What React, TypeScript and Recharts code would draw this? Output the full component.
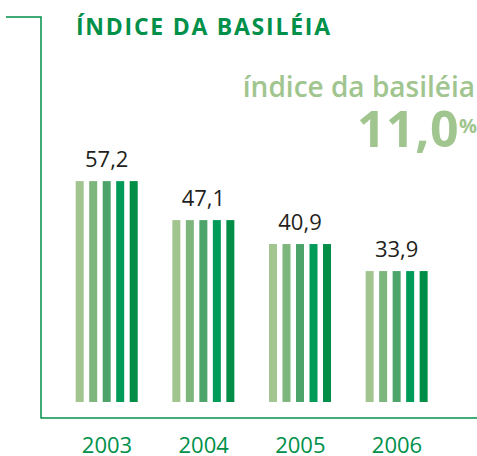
import React from "react";
import { BarChart, Bar, XAxis, YAxis, LabelList } from "recharts";

const years = ["2003", "2004", "2005", "2006"];
const values = [57.2, 47.1, 40.9, 33.9];
const stripeColors = ["#a2c48f", "#7db67c", "#4ca46b", "#009b59", "#008d45"];

const data = years.map((year, i) => ({ year, value: values[i] }));

const GREEN = "#00904a";
const LIGHT = "#a0c58f";
const FONT = "'Open Sans', 'Noto Sans', sans-serif";

const StripedBar = (props: any) => {
  const { x, y, width, height } = props;
  const sw = (width * 8) / 62;
  const pitch = (width - sw) / (stripeColors.length - 1);
  return (
    <g>
      {stripeColors.map((c, i) => (
        <rect key={i} x={x + i * pitch} y={y} width={sw} height={height} fill={c} />
      ))}
    </g>
  );
};

const App = () => {
  return (
    <div style={{ position: "absolute", left: 0, top: 0, width: 477, height: 456, background: "#fff" }}>
      <BarChart
        width={477}
        height={456}
        data={data}
        margin={{ top: 17, right: 0, bottom: 8, left: 41 }}
        barSize={62}
      >
        <XAxis
          dataKey="year"
          height={30}
          padding={{ left: 17.7, right: 31.7 }}
          axisLine={{ stroke: GREEN, strokeWidth: 1.5 }}
          tickLine={false}
          tickSize={6}
          tickMargin={13}
          tick={{ fontSize: 22, fill: GREEN, fontFamily: FONT }}
        />
        <YAxis hide domain={[-4.15, 99.7]} allowDataOverflow />
        <Bar dataKey="value" shape={<StripedBar />} isAnimationActive={false}>
          <LabelList
            dataKey="value"
            position="top"
            offset={14}
            formatter={(v: any) => String(v).replace(".", ",")}
            style={{ fontSize: 22, fill: "#231f20", fontFamily: FONT }}
          />
        </Bar>
      </BarChart>
      <svg
        width={477}
        height={456}
        style={{ position: "absolute", left: 0, top: 0, pointerEvents: "none" }}
      >
        <polyline
          points="6,17 41,17 41,418.5"
          fill="none"
          stroke={GREEN}
          strokeWidth={1.5}
        />
        <text
          x={76}
          y={34.5}
          fontSize={23}
          fontWeight={700}
          fill={GREEN}
          fontFamily={FONT}
          textLength={254}
          lengthAdjust="spacing"
        >
          ÍNDICE DA BASILÉIA
        </text>
        <text
          x={475}
          y={97}
          textAnchor="end"
          fontSize={28}
          fontWeight={600}
          fill={LIGHT}
          fontFamily={FONT}
        >
          índice da basiléia
        </text>
        <text
          x={459}
          y={147}
          textAnchor="end"
          fontSize={50}
          fontWeight={700}
          fill={LIGHT}
          fontFamily={FONT}
          letterSpacing={0.5}
        >
          11,0
        </text>
        <text x={459} y={133} fontSize={20} fontWeight={700} fill={LIGHT} fontFamily={FONT}>
          %
        </text>
      </svg>
    </div>
  );
};

export default App;
